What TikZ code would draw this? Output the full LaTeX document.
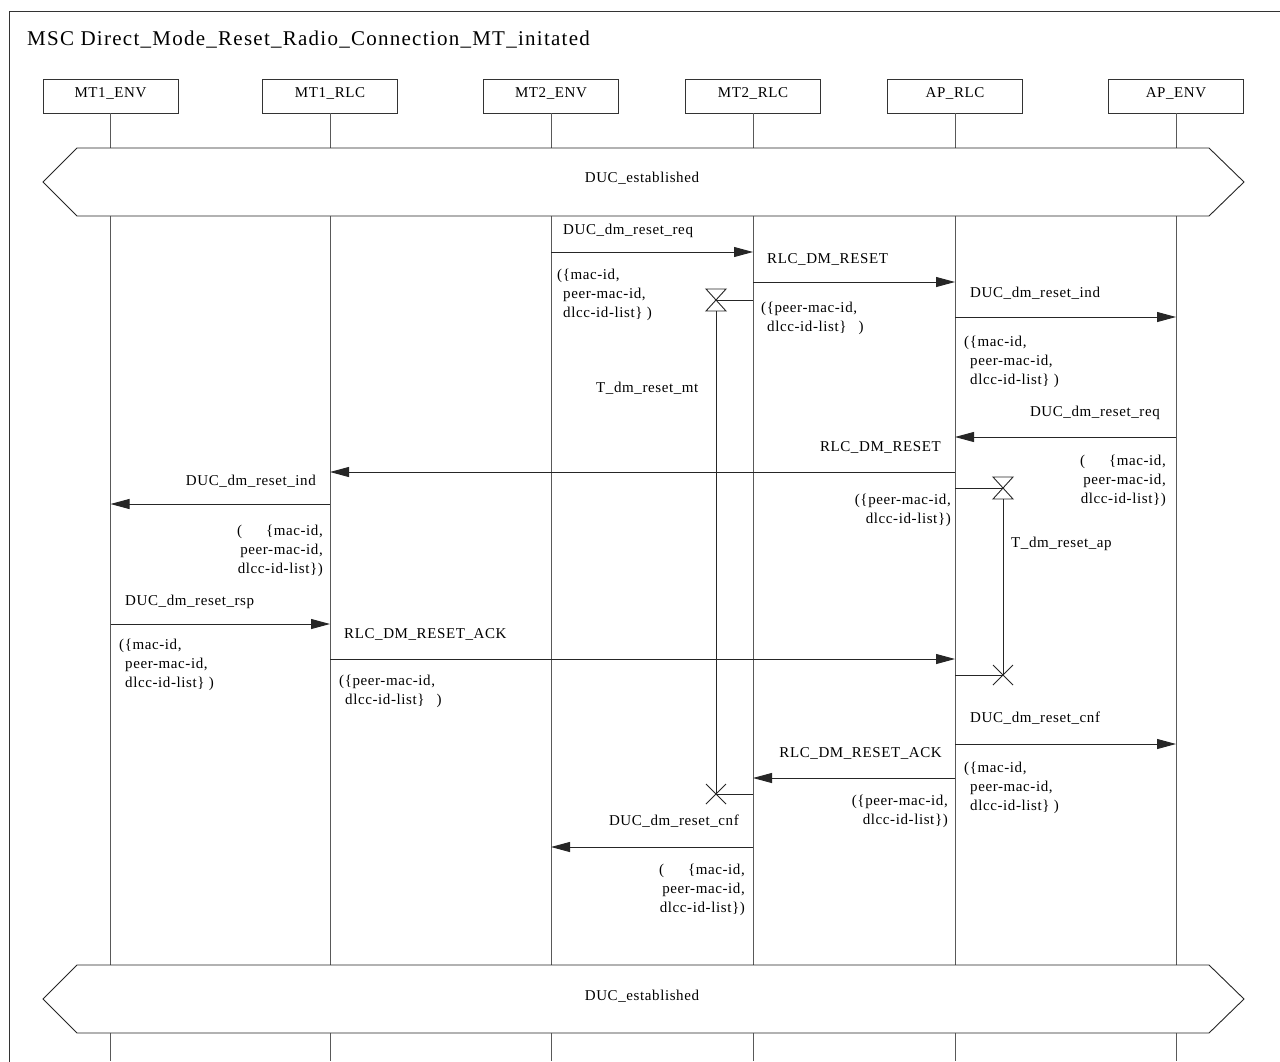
\documentclass[tikz,border=0pt]{standalone}
\usepackage{fontspec}
\setmainfont{Liberation Serif}
\newfontfamily\msgfam[LetterSpace=4]{Liberation Serif}
\newfontfamily\ttlfam[LetterSpace=6]{Liberation Serif}
\usetikzlibrary{arrows.meta}
\newcommand\msgfont{\msgfam\fontsize{15}{19}\selectfont}
\newcommand\ttlfont{\ttlfam\fontsize{21}{24}\selectfont}
\begin{document}
\begin{tikzpicture}[x=1pt,y=-1pt,
  inst/.style={draw=black!80, line width=0.9pt, fill=white, minimum width=135pt, minimum height=34pt, inner sep=0pt, font=\msgfont, text height=10pt, text depth=8pt},
  life/.style={draw=black!65, line width=1pt},
  msg/.style={draw=black!85, line width=0.9pt, -{Triangle[length=19pt,width=10pt]}},
  tline/.style={draw=black!85, line width=0.9pt},
  lbl/.style={font=\msgfont, inner sep=0pt},
  labL/.style={lbl, anchor=base west},
  labR/.style={lbl, anchor=base east},
  parL/.style={lbl, align=left, anchor=north west},
  parR/.style={lbl, align=right, anchor=north east},
  cond/.style={draw=black!85, line width=0.9pt, fill=white},
]
\useasboundingbox (0,0) rectangle (1280,1061);
\clip (0,0) rectangle (1280,1061);
\fill[white] (0,0) rectangle (1280,1061);
% frame
\draw[draw=black!80, line width=1pt] (9,11) rectangle (1320,1100);
\node[lbl, font=\ttlfont, anchor=base west] (title) at (27,45) {MSC Direct\_Mode\_Reset\_Radio\_Connection\_MT\_initated};
% instances
\node[inst] (e1) at (110.5,96) {MT1\_ENV};
\node[inst] (r1) at (330,96) {MT1\_RLC};
\node[inst] (e2) at (551,96) {MT2\_ENV};
\node[inst] (r2) at (753,96) {MT2\_RLC};
\node[inst] (ap) at (955,96) {AP\_RLC};
\node[inst] (ae) at (1176,96) {AP\_ENV};
\foreach \n in {e1,r1,e2,r2,ap,ae} {\draw[life] (\n.south) -- (\n.south |- 0,1061);}
% conditions
\draw[cond] (77,148) -- (1209,148) -- (1244,182) -- (1209,216) -- (77,216) -- (43,182) -- cycle;
\node[lbl] (c1) at (642,178) {DUC\_established};
\draw[cond] (77,965) -- (1209,965) -- (1244,999) -- (1209,1033) -- (77,1033) -- (43,999) -- cycle;
\node[lbl] (c2) at (642,996) {DUC\_established};
% m1
\draw[msg] (e2 |- 0,252) -- (r2 |- 0,252);
\node[labL] (m1) at (563,234) {DUC\_dm\_reset\_req};
\node[parL] (p1) at (557,269) {(\{mac-id,\\\hspace*{6pt}peer-mac-id,\\\hspace*{6pt}dlcc-id-list\} )};
% m2
\draw[msg] (r2 |- 0,282) -- (ap |- 0,282);
\node[labL] (m2) at (767,263) {RLC\_DM\_RESET};
\node[parL] (p2) at (761,302) {(\{peer-mac-id,\\\hspace*{6pt}dlcc-id-list\}\hspace{12pt})};
% timer mt start
\coordinate (t1s) at (716,300);
\coordinate (t1e) at (716,794);
\draw[tline] (r2 |- t1s) -- (t1s);
\draw[tline] (706,289) -- (726,289) -- (706,311) -- (726,311) -- cycle;
\draw[tline] (716,311) -- (t1e);
\draw[tline] (r2 |- t1e) -- (t1e);
\draw[tline] (706,784) -- (726,804) (706,804) -- (726,784);
\node[labL] (t1) at (596,392) {T\_dm\_reset\_mt};
% m3
\draw[msg] (ap |- 0,317) -- (ae |- 0,317);
\node[labL] (m3) at (970,297) {DUC\_dm\_reset\_ind};
\node[parL] (p3) at (964,336) {(\{mac-id,\\\hspace*{6pt}peer-mac-id,\\\hspace*{6pt}dlcc-id-list\} )};
% m4
\draw[msg] (ae |- 0,437) -- (ap |- 0,437);
\node[labR] (m4) at (1160,416) {DUC\_dm\_reset\_req};
\node[parR] (p4) at (1166,455) {(\hspace{24pt}\{mac-id,\\peer-mac-id,\\dlcc-id-list\})};
% m5
\draw[msg] (ap |- 0,472) -- (r1 |- 0,472);
\node[labR] (m5) at (941,451) {RLC\_DM\_RESET};
\node[parR] (p5) at (951,494) {(\{peer-mac-id,\\dlcc-id-list\})};
% timer ap
\coordinate (t2s) at (1003,488);
\coordinate (t2e) at (1003,675);
\draw[tline] (ap |- t2s) -- (t2s);
\draw[tline] (993,477) -- (1013,477) -- (993,499) -- (1013,499) -- cycle;
\draw[tline] (1003,499) -- (t2e);
\draw[tline] (ap |- t2e) -- (t2e);
\draw[tline] (993,665) -- (1013,685) (993,685) -- (1013,665);
\node[labL] (t2) at (1011,547) {T\_dm\_reset\_ap};
% m6
\draw[msg] (r1 |- 0,504) -- (e1 |- 0,504);
\node[labR] (m6) at (316,485) {DUC\_dm\_reset\_ind};
\node[parR] (p6) at (323,525) {(\hspace{24pt}\{mac-id,\\peer-mac-id,\\dlcc-id-list\})};
% m7
\draw[msg] (e1 |- 0,624) -- (r1 |- 0,624);
\node[labL] (m7) at (125,605) {DUC\_dm\_reset\_rsp};
\node[parL] (p7) at (119,639) {(\{mac-id,\\\hspace*{6pt}peer-mac-id,\\\hspace*{6pt}dlcc-id-list\} )};
% m8
\draw[msg] (r1 |- 0,659) -- (ap |- 0,659);
\node[labL] (m8) at (344,638) {RLC\_DM\_RESET\_ACK};
\node[parL] (p8) at (339,675) {(\{peer-mac-id,\\\hspace*{6pt}dlcc-id-list\}\hspace{12pt})};
% m9
\draw[msg] (ap |- 0,744) -- (ae |- 0,744);
\node[labL] (m9) at (970,722) {DUC\_dm\_reset\_cnf};
\node[parL] (p9) at (964,762) {(\{mac-id,\\\hspace*{6pt}peer-mac-id,\\\hspace*{6pt}dlcc-id-list\} )};
% m10
\draw[msg] (ap |- 0,778) -- (r2 |- 0,778);
\node[labR] (m10) at (942,757) {RLC\_DM\_RESET\_ACK};
\node[parR] (p10) at (948,795) {(\{peer-mac-id,\\dlcc-id-list\})};
% m11
\draw[msg] (r2 |- 0,847) -- (e2 |- 0,847);
\node[labR] (m11) at (739,825) {DUC\_dm\_reset\_cnf};
\node[parR] (p11) at (745,864) {(\hspace{24pt}\{mac-id,\\peer-mac-id,\\dlcc-id-list\})};
\end{tikzpicture}
\end{document}
